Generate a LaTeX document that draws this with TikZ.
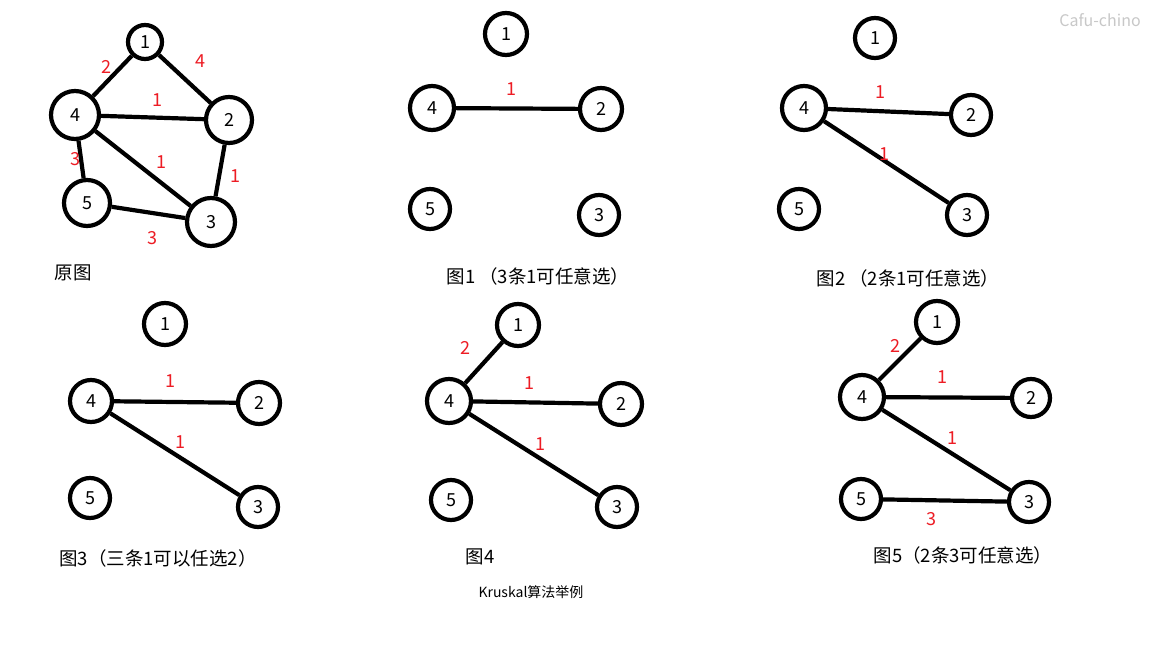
\documentclass[tikz,border=0pt]{standalone}
\usepackage{fontspec}
\setmainfont{Noto Sans CJK SC}
\usepackage{tikz}
\definecolor{wred}{RGB}{237,28,36}
\definecolor{wgray}{RGB}{200,200,200}
\tikzset{
  vtx/.style={circle,draw,line width=4.2pt,inner sep=0pt,minimum size=#1,font=\fontsize{18}{20}\selectfont},
  link/.style={line width=4.2pt},
  wt/.style={text=wred,font=\fontsize{18}{20}\selectfont},
  caption/.style={font=\fontsize{18.5}{21}\selectfont}
}

\begin{document}
\begin{tikzpicture}[x=1pt,y=-1pt]
\fill[white] (0,0) rectangle (1152,648);
\useasboundingbox (0,0) rectangle (1152,648);
% original graph
\node[vtx=34] (a1) at (145,42) {1};
\node[vtx=46] (a2) at (229,120) {2};
\node[vtx=48] (a3) at (211,222) {3};
\node[vtx=48] (a4) at (75,115) {4};
\node[vtx=46] (a5) at (87,203) {5};
\draw[link] (a1) -- (a4);
\draw[link] (a1) -- (a2);
\draw[link] (a4) -- (a2);
\draw[link] (a4) -- (a3);
\draw[link] (a2) -- (a3);
\draw[link] (a4) -- (a5);
\draw[link] (a5) -- (a3);
\node[wt] (wa14) at (106,67) {2};
\node[wt] (wa12) at (200,61) {4};
\node[wt] (wa42) at (157,100) {1};
\node[wt] (wa43) at (161,162) {1};
\node[wt] (wa23) at (235,176) {1};
\node[wt] (wa45) at (75,159) {3};
\node[wt] (wa53) at (152,238) {3};
\node[caption] (capa) at (73,273) {原图};
% figure 1
\node[vtx=42] (b1) at (506,34) {1};
\node[vtx=42] (b2) at (601,109) {2};
\node[vtx=40] (b3) at (599,215) {3};
\node[vtx=44] (b4) at (432,108) {4};
\node[vtx=40] (b5) at (430,209) {5};
\draw[link] (b4) -- (b2);
\node[wt] (wb42) at (511,89) {1};
\node[caption] (capb) at (538,276) {图1 （3条1可任意选）};
% figure 2
\node[vtx=40] (c1) at (875,38) {1};
\node[vtx=40] (c2) at (971,115) {2};
\node[vtx=40] (c3) at (967,215) {3};
\node[vtx=44] (c4) at (804,108) {4};
\node[vtx=40] (c5) at (799,209) {5};
\draw[link] (c4) -- (c2);
\draw[link] (c4) -- (c3);
\node[wt] (wc42) at (880,92) {1};
\node[wt] (wc43) at (884,154) {1};
\node[caption] (capc) at (908,278) {图2 （2条1可任意选）};
% figure 3
\node[vtx=42] (d1) at (165,324) {1};
\node[vtx=42] (d2) at (259,403) {2};
\node[vtx=40] (d3) at (258,507) {3};
\node[vtx=42] (d4) at (91,401) {4};
\node[vtx=40] (d5) at (90,498) {5};
\draw[link] (d4) -- (d2);
\draw[link] (d4) -- (d3);
\node[wt] (wd42) at (170,381) {1};
\node[wt] (wd43) at (180,442) {1};
\node[caption] (capd) at (158,558) {图3（三条1可以任选2）};
% figure 4
\node[vtx=42] (e1) at (518,325) {1};
\node[vtx=42] (e2) at (621,404) {2};
\node[vtx=40] (e3) at (617,507) {3};
\node[vtx=44] (e4) at (449,401) {4};
\node[vtx=40] (e5) at (451,500) {5};
\draw[link] (e4) -- (e1);
\draw[link] (e4) -- (e2);
\draw[link] (e4) -- (e3);
\node[wt] (we41) at (465,348) {2};
\node[wt] (we42) at (529,383) {1};
\node[wt] (we43) at (540,444) {1};
\node[caption] (cape) at (480,557) {图4};
% figure 5
\node[vtx=42] (f1) at (937,322) {1};
\node[vtx=38] (f2) at (1031,398) {2};
\node[vtx=40] (f3) at (1029,502) {3};
\node[vtx=44] (f4) at (862,397) {4};
\node[vtx=40] (f5) at (861,499) {5};
\draw[link] (f4) -- (f1);
\draw[link] (f4) -- (f2);
\draw[link] (f4) -- (f3);
\draw[link] (f5) -- (f3);
\node[wt] (wf41) at (895,346) {2};
\node[wt] (wf42) at (942,377) {1};
\node[wt] (wf43) at (952,438) {1};
\node[wt] (wf53) at (931,519) {3};
\node[caption] (capf) at (963,555) {图5（2条3可任意选）};
% title and mark
\node[font=\fontsize{14}{16}\selectfont] (title) at (531,592) {Kruskal算法举例};
\node[text=wgray,font=\fontsize{16}{18}\selectfont] (wmark) at (1100,20) {Cafu-chino};
\end{tikzpicture}
\end{document}
